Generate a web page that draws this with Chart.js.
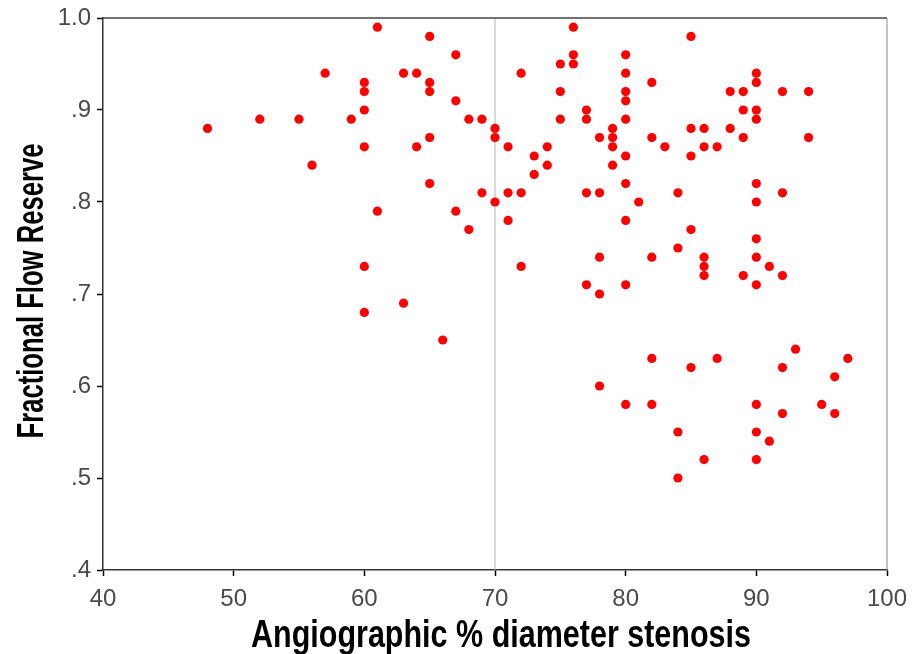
<!DOCTYPE html>
<html lang="en">
<head>
    <meta charset="UTF-8">
    <title>FFR vs angiographic stenosis</title>
    <script src="https://cdn.jsdelivr.net/npm/chart.js"></script>
    <style>
        html, body { margin: 0; padding: 0; background: #ffffff; }
        #wrap { width: 913px; height: 654px; }
    </style>
</head>
<body>
    <div id="wrap"><canvas id="ffrChart" width="913" height="654"></canvas></div>
    <script>
        // % diameter stenosis (x) and FFR (y)
        const stenosis = [
            48, 52, 55, 56, 57, 59,
            60, 60, 60, 60, 60, 60,
            61, 61, 63, 63, 64, 64,
            65, 65, 65, 65, 65, 66,
            67, 67, 67, 68, 68, 69, 69,
            70, 70, 70, 71, 71, 71, 72, 72, 72,
            73, 73, 74, 74, 75, 75, 75, 76, 76, 76,
            77, 77, 77, 77, 78, 78, 78, 78, 78,
            79, 79, 79, 79,
            80, 80, 80, 80, 80, 80, 80, 80, 80, 80,
            81, 82, 82, 82, 82, 82, 83,
            84, 84, 84, 84, 85, 85, 85, 85, 85,
            86, 86, 86, 86, 86, 86, 87, 87, 88, 88,
            89, 89, 89, 89,
            90, 90, 90, 90, 90, 90, 90, 90, 90, 90, 90, 90,
            91, 91, 92, 92, 92, 92, 92, 93, 94, 94,
            95, 96, 96, 97
        ];
        const ffr = [
            .88, .89, .89, .84, .94, .89,
            .93, .92, .90, .86, .73, .68,
            .99, .79, .94, .69, .94, .86,
            .98, .93, .92, .87, .82, .65,
            .96, .91, .79, .89, .77, .89, .81,
            .88, .87, .80, .86, .81, .78, .94, .81, .73,
            .85, .83, .86, .84, .95, .92, .89, .99, .96, .95,
            .90, .89, .81, .71, .87, .81, .74, .70, .60,
            .88, .87, .86, .84,
            .96, .94, .92, .91, .89, .85, .82, .78, .71, .58,
            .80, .93, .87, .74, .63, .58, .86,
            .81, .75, .55, .50, .98, .88, .85, .77, .62,
            .88, .86, .74, .73, .72, .52, .86, .63, .92, .88,
            .92, .90, .87, .72,
            .94, .93, .90, .89, .82, .80, .76, .74, .71, .58, .55, .52,
            .73, .54, .92, .81, .72, .62, .57, .64, .92, .87,
            .58, .61, .57, .63
        ];

        const refLineX = 70;
        const xTicks = [40, 50, 60, 70, 80, 90, 100];
        const yTicks = [.4, .5, .6, .7, .8, .9, 1.0];
        const xTitle = 'Angiographic % diameter stenosis';
        const yTitle = 'Fractional Flow Reserve';

        const points = stenosis.map((x, i) => ({ x: x, y: ffr[i] }));

        // frame round the plot + condensed axis titles
        const framePlugin = {
            id: 'frame',
            afterDraw(chart) {
                const a = chart.chartArea;
                const c = chart.ctx;
                c.save();
                c.lineWidth = 1.5;
                c.strokeStyle = '#444';
                c.beginPath();
                c.moveTo(a.left, a.top);
                c.lineTo(a.right, a.top);
                c.stroke();
                c.strokeStyle = '#888';
                c.lineWidth = 1;
                c.beginPath();
                c.moveTo(a.right, a.top);
                c.lineTo(a.right, a.bottom);
                c.stroke();
                c.restore();

                // the original titles use a narrow bold face, squeeze a normal one
                c.save();
                c.fillStyle = '#000';
                c.textAlign = 'center';
                c.textBaseline = 'alphabetic';
                c.font = "bold 38px 'Liberation Sans', Arial, sans-serif";
                let sx = 500 / c.measureText(xTitle).width;
                c.translate(501, 647);
                c.scale(sx, 1);
                c.fillText(xTitle, 0, 0);
                c.restore();

                c.save();
                c.fillStyle = '#000';
                c.textAlign = 'center';
                c.textBaseline = 'alphabetic';
                c.font = "bold 36px 'Liberation Sans', Arial, sans-serif";
                let sy = 295 / c.measureText(yTitle).width;
                c.translate(43, 291);
                c.rotate(-Math.PI / 2);
                c.scale(sy, 1);
                c.fillText(yTitle, 0, 0);
                c.restore();
            }
        };

        const tickFont = { family: "'Liberation Sans', Arial, sans-serif", size: 24 };

        new Chart(document.getElementById('ffrChart'), {
            type: 'scatter',
            data: {
                datasets: [
                    {
                        data: points,
                        backgroundColor: '#ff0000',
                        borderColor: '#ff0000',
                        pointRadius: 4.6,
                        pointHoverRadius: 4.6,
                        borderWidth: 0,
                        order: 1
                    },
                    {
                        data: [{ x: refLineX, y: yTicks[0] }, { x: refLineX, y: yTicks[yTicks.length - 1] }],
                        showLine: true,
                        borderColor: '#b4b4b4',
                        borderWidth: 1,
                        pointRadius: 0,
                        order: 2
                    }
                ]
            },
            options: {
                responsive: false,
                animation: false,
                layout: { padding: { top: 18, right: 26, left: 0, bottom: 0 } },
                plugins: {
                    legend: { display: false },
                    tooltip: { enabled: false }
                },
                scales: {
                    x: {
                        type: 'linear',
                        min: xTicks[0],
                        max: xTicks[xTicks.length - 1],
                        afterBuildTicks: (axis) => { axis.ticks = xTicks.map(v => ({ value: v })); },
                        afterFit: (axis) => {
                            axis.height = 84;
                            axis.paddingLeft = 0;
                            axis.paddingRight = 0;
                        },
                        grid: { drawOnChartArea: false, tickLength: 6, tickColor: '#000', tickWidth: 1.5 },
                        border: { color: '#333', width: 1.5 },
                        ticks: { color: '#4a4a4a', font: tickFont, padding: 9, maxRotation: 0 },
                        title: { display: false, text: xTitle }
                    },
                    y: {
                        type: 'linear',
                        min: yTicks[0],
                        max: yTicks[yTicks.length - 1],
                        afterBuildTicks: (axis) => { axis.ticks = yTicks.map(v => ({ value: v })); },
                        afterFit: (axis) => {
                            axis.width = 103;
                            axis.paddingTop = 0;
                            axis.paddingBottom = 0;
                        },
                        grid: { drawOnChartArea: false, tickLength: 6, tickColor: '#000', tickWidth: 1.5 },
                        border: { color: '#333', width: 1.5 },
                        ticks: {
                            color: '#4a4a4a',
                            font: tickFont,
                            padding: 6,
                            callback: (v) => v >= 1 ? '1.0' : v.toFixed(1).replace(/^0/, '')
                        },
                        title: { display: false, text: yTitle }
                    }
                }
            },
            plugins: [framePlugin]
        });
    </script>
</body>
</html>
